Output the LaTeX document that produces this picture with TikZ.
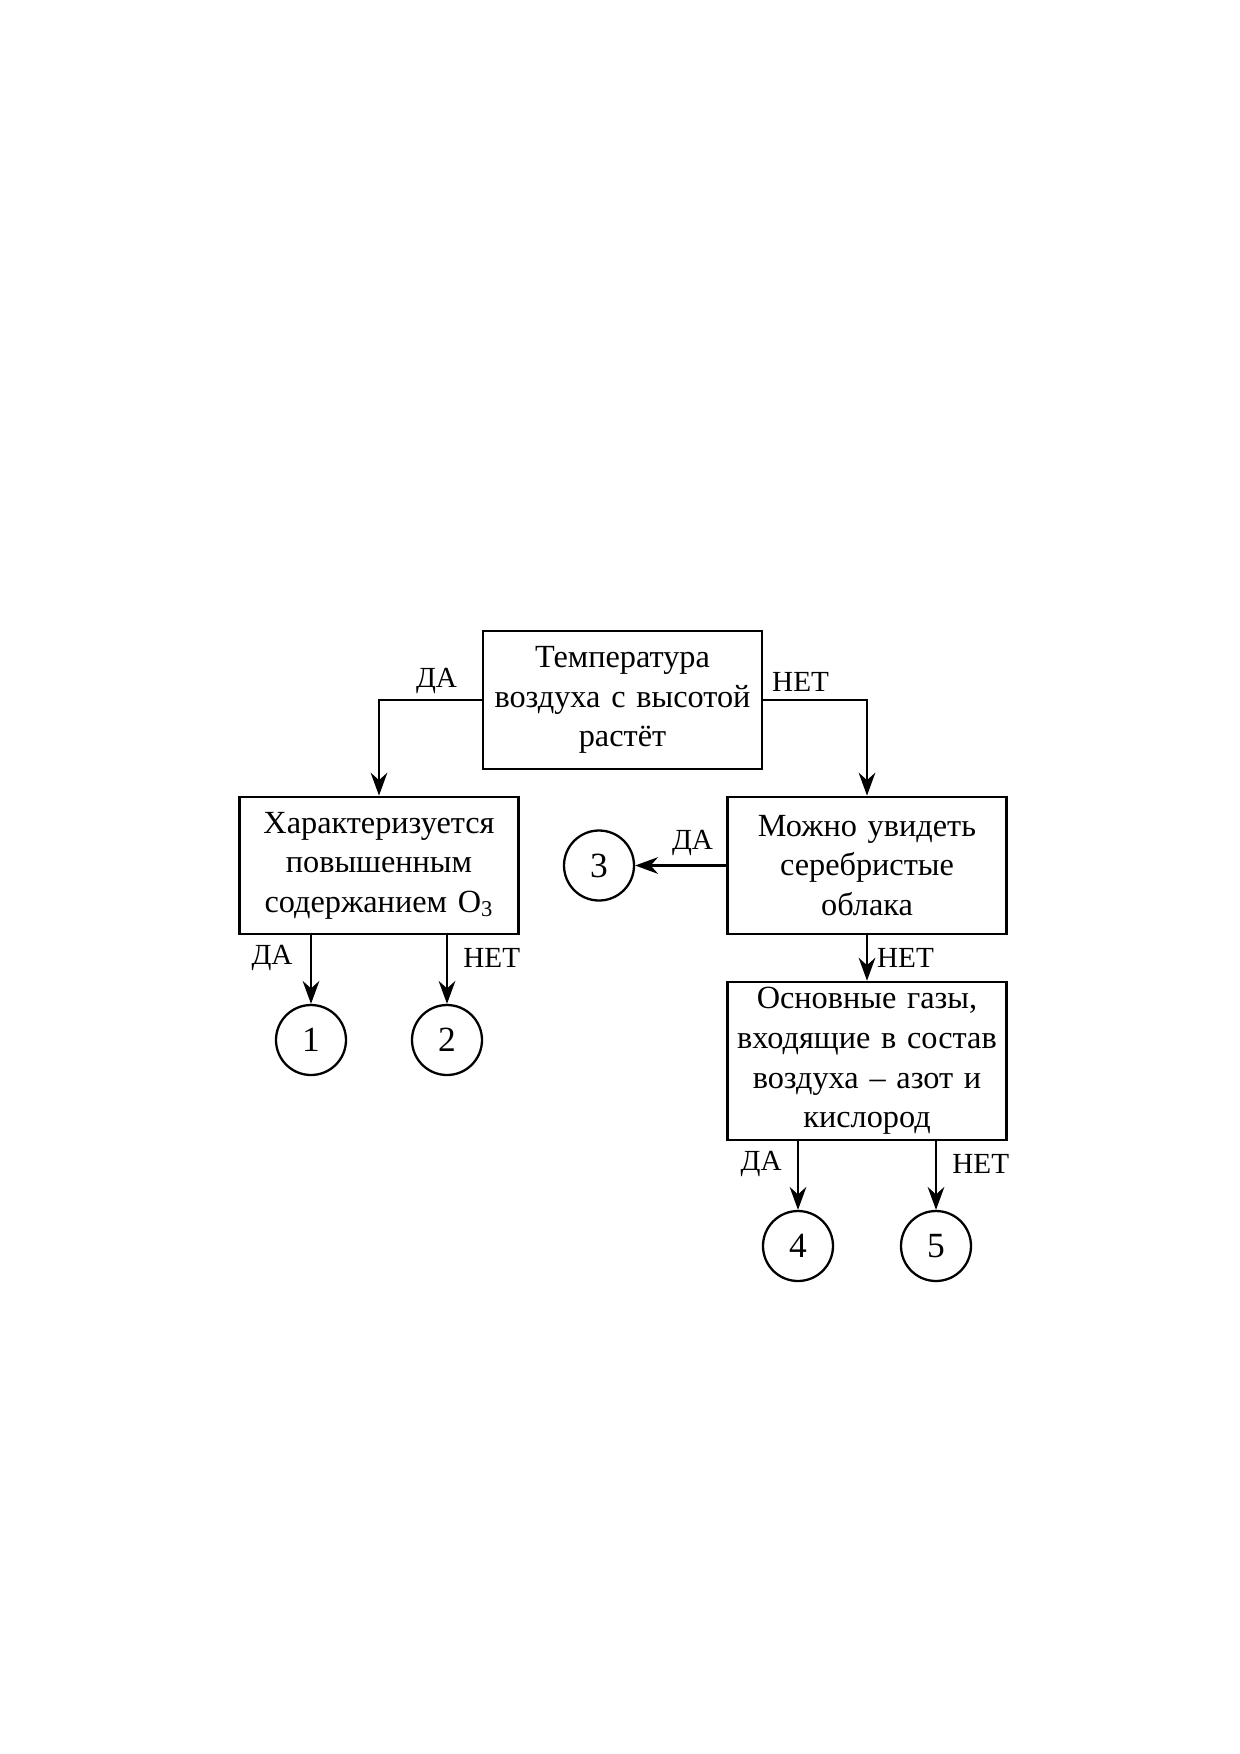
\documentclass[tikz,border=0pt]{standalone}
\usepackage{fontspec}
\setmainfont[WordSpace=0.8]{Liberation Serif}
\usetikzlibrary{arrows.meta}

\begin{document}
\begin{tikzpicture}[%
    x=0.48pt, y=-0.48pt,
    box/.style={
      rectangle,
      draw=black,
      line width=1.1pt,
      fill=none,
      text width=130pt,
      align=center,
      inner sep=2pt,
      minimum width=134pt,
      minimum height=66pt,
      font=\fontsize{15.5}{19}\selectfont
    },
    leaf/.style={
      circle,
      draw=black,
      line width=1.1pt,
      inner sep=0pt,
      minimum size=33.6pt,
      font=\fontsize{17}{19}\selectfont
    },
    line/.style={
      draw,
      line width=1.1pt,
      -{Stealth[length=11pt,width=8pt]}
    },
    answer/.style={
      font=\fontsize{14}{16}\selectfont
    }
  ]
    \useasboundingbox (0,0) rectangle (1240,1754);

    % questions
    \node[box] (temp) at (622.5,700) {Температура\\воздуха с высотой\\растёт};
    \node[box] (ozone) at (379,865.5) {Характеризуется\\повышенным\\содержанием O\textsubscript{3}};
    \node[box] (clouds) at (867,865.5) {Можно увидеть\\серебристые\\облака};
    \node[box, minimum height=76pt] (gases) at (867,1061) {Основные газы,\\входящие в состав\\воздуха – азот и\\кислород};

    % answers
    \node[leaf] (n1) at (311,1040) {1};
    \node[leaf] (n2) at (447,1040) {2};
    \node[leaf] (n3) at (599,865.5) {3};
    \node[leaf] (n4) at (798,1246) {4};
    \node[leaf] (n5) at (936,1246) {5};

    % connectors
    \draw[line] (temp.west) -| (ozone.north) node[answer, pos=0.22, above=-1pt] {ДА};
    \draw[line] (temp.east) -| (clouds.north) node[answer, pos=0.18, above=0pt] {НЕТ};
    \draw[line] (clouds.west) -- (n3.east) node[answer, pos=0.37, above=1pt] {ДА};
    \draw[line] (clouds.south) -- (gases.north) node[answer, midway, right=1pt] {НЕТ};
    \draw[line] (ozone.south -| n1) -- (n1.north) node[answer, pos=0.33, left=5pt] {ДА};
    \draw[line] (ozone.south -| n2) -- (n2.north) node[answer, pos=0.33, right=4pt] {НЕТ};
    \draw[line] (gases.south -| n4) -- (n4.north) node[answer, pos=0.33, left=4pt] {ДА};
    \draw[line] (gases.south -| n5) -- (n5.north) node[answer, pos=0.33, right=4pt] {НЕТ};
\end{tikzpicture}
\end{document}
